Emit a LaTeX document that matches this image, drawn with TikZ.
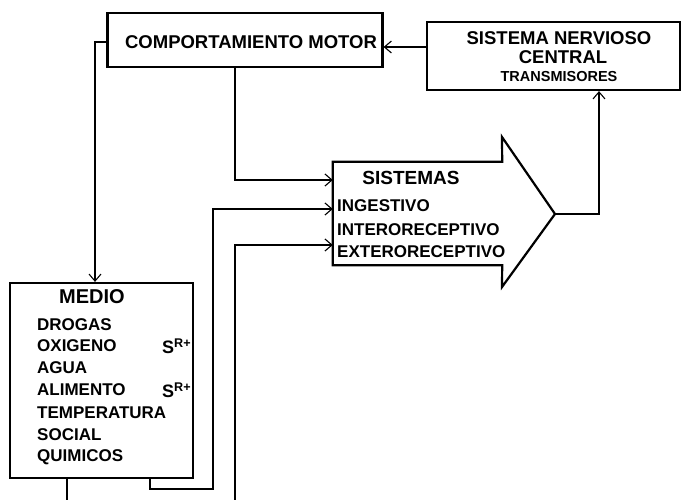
\documentclass[tikz,border=0pt]{standalone}
\usepackage{fontspec}
\setmainfont{Liberation Sans}
\usetikzlibrary{arrows.meta,calc}
\begin{document}
\begin{tikzpicture}[x=1pt,y=-1pt,
  box/.style={draw, line width=2.2pt, inner sep=0pt},
  conn/.style={line width=1.1pt},
  arr/.style={conn,-{Straight Barb[length=7pt,width=12pt,line width=1.1pt]}},
  lbl/.style={inner sep=0pt, font=\bfseries\fontsize{17}{19}\selectfont},
  big/.style={inner sep=0pt, font=\bfseries\fontsize{18.5}{20}\selectfont},
  itm/.style={lbl, anchor=west}]
\useasboundingbox (0,0) rectangle (683,500);

% boxes
\node[box, minimum width=275pt, minimum height=54pt] (cm) at (245,40) {};
\node[big] (cmt) at (251,42) {COMPORTAMIENTO MOTOR};

\node[box, minimum width=253pt, minimum height=68pt] (snc) at (553.5,56) {};
\node[big] (snc1) at (559,38) {SISTEMA NERVIOSO};
\node[big] (snc2) at (563,57) {CENTRAL};
\node[inner sep=0pt, font=\bfseries\fontsize{14.5}{16}\selectfont] (snc3) at (559,77) {TRANSMISORES};

\node[box, minimum width=183pt, minimum height=195pt] (medio) at (101.5,380.5) {};
\node[inner sep=0pt, font=\bfseries\fontsize{20}{22}\selectfont] (mt) at (92,297) {MEDIO};
\node[itm] (m1) at (37,325) {DROGAS};
\node[itm] (m2) at (37,346) {OXIGENO};
\node[itm] (m3) at (37,368) {AGUA};
\node[itm] (m4) at (37,390) {ALIMENTO};
\node[itm] (m5) at (37,413) {TEMPERATURA};
\node[itm] (m6) at (37,435) {SOCIAL};
\node[itm] (m7) at (37,457) {QUIMICOS};
\node[inner sep=0pt, anchor=west, font=\bfseries\fontsize{18}{20}\selectfont] (sr1) at (162,346) {S\textsuperscript{R+}};
\node[inner sep=0pt, anchor=west, font=\bfseries\fontsize{18}{20}\selectfont] (sr2) at (162,390) {S\textsuperscript{R+}};

% SISTEMAS arrow
\node[minimum width=169pt, minimum height=103pt, inner sep=0pt] (sis) at (417.5,213.5) {};
\coordinate (tip) at (555,214);
\draw[line width=2.2pt, line join=miter] (sis.north west) -- (sis.north east) -- (502,137) -- (tip)
   -- (502,287) -- (sis.south east) -- (sis.south west) -- cycle;
\node[inner sep=0pt, font=\bfseries\fontsize{19}{21}\selectfont] (st) at (411,178) {SISTEMAS};
\node[itm] (s1) at (337,206) {INGESTIVO};
\node[itm] (s2) at (337,230) {INTERORECEPTIVO};
\node[itm] (s3) at (337,252) {EXTERORECEPTIVO};

% connectors
\coordinate (e1) at (235,500);
\coordinate (e2) at (67,500);
\draw[arr] (snc.west |- 0,47) -- (cm.east |- 0,47);
\draw[arr] (cm.west |- 0,42) -| (medio.north -| 95,0);
\draw[arr] (cm.south -| 235,0) |- (sis.west |- 0,180);
\draw[arr] (tip) -| (snc.south -| 599,0);
\draw[arr] (medio.south -| 150,0) |- (213,489) |- (sis.west |- 0,209);
\draw[arr] (e1) |- (sis.west |- 0,245);
\draw[conn] (medio.south -| 67,0) -- (e2);
\end{tikzpicture}
\end{document}
